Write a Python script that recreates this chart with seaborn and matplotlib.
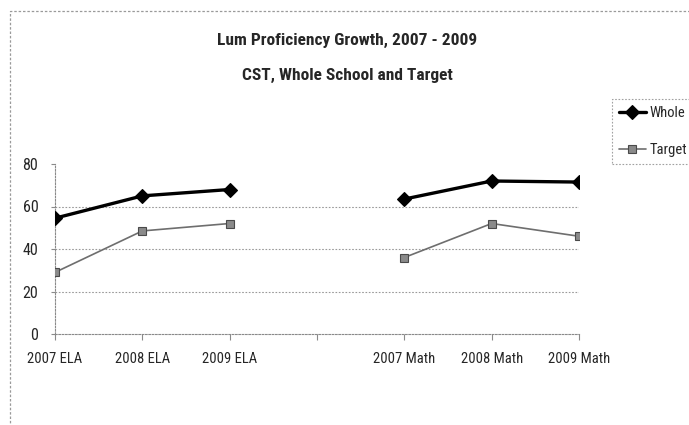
import matplotlib
matplotlib.use("Agg")
import matplotlib.pyplot as plt
from matplotlib.patches import Rectangle
from matplotlib.lines import Line2D
import seaborn as sns
import pandas as pd

categories = ["2007 ELA", "2008 ELA", "2009 ELA", "", "2007 Math", "2008 Math", "2009 Math"]
whole = [54.5, 65, 68, None, 63.5, 72, 71.5]
target = [29, 48.5, 52, None, 36, 52, 46]
subjects = ["ELA", "ELA", "ELA", None, "Math", "Math", "Math"]
series_names = ["Whole", "Target"]
yticks = [0, 20, 40, 60, 80]
title_lines = ["Lum Proficiency Growth, 2007 - 2009", "CST, Whole School and Target"]

sns.set_theme(style="white")
plt.rcParams['font.family'] = ['Roboto Condensed', 'DejaVu Sans']

rows = []
for name, vals in zip(series_names, [whole, target]):
    for i, (v, s) in enumerate(zip(vals, subjects)):
        if v is not None:
            rows.append({"pos": i, "value": v, "series": name, "subject": s})
df = pd.DataFrame(rows)

fig = plt.figure(figsize=(6.89, 4.25), dpi=100)
ax = fig.add_axes([55/689, 1-334/425, (579-55)/689, (334-164)/425])

styles = {
    "Whole": dict(color="black", lw=2.4, marker="D", ms=7.5, mfc="black", mec="black"),
    "Target": dict(color="#6e6e6e", lw=1.2, marker="s", ms=6.0, mfc="#8a8a8a", mec="#4a4a4a"),
}
for name in series_names:
    st = styles[name]
    sub = df[df.series == name]
    sns.lineplot(data=sub, x="pos", y="value", units="subject", estimator=None,
                 ax=ax, color=st["color"], linewidth=st["lw"], marker=st["marker"],
                 markersize=st["ms"], markerfacecolor=st["mfc"], markeredgecolor=st["mec"],
                 markeredgewidth=0.8, legend=False, zorder=3)

ax.set_xlim(0, len(categories) - 1)
ax.set_ylim(0, 80)
ax.set_xticks(range(len(categories)))
ax.set_xticklabels(categories, fontsize=10.5)
ax.set_yticks(yticks)
ax.set_yticklabels([str(t) for t in yticks], fontsize=11.5)
ax.set_xlabel("")
ax.set_ylabel("")

for t in [20, 40, 60]:
    ax.axhline(t, color="#9a9a9a", lw=0.8, ls=(0, (1.5, 1.5)), zorder=1)

for side in ["top", "right"]:
    ax.spines[side].set_visible(False)
for side in ["left", "bottom"]:
    ax.spines[side].set_visible(True)
    ax.spines[side].set_color("#8a8a8a")
    ax.spines[side].set_linewidth(0.8)
    ax.spines[side].set_linestyle((0, (1.5, 1.5)))

ax.tick_params(axis="x", direction="out", length=4, width=0.8, color="#8a8a8a", pad=9, bottom=True)
ax.tick_params(axis="y", direction="out", length=3, width=0.8, color="#8a8a8a", pad=9, left=True)
ax.grid(False)

fig.text(347/689, 1-40/425, title_lines[0], ha="center", va="center",
         fontsize=12.5, fontweight="bold")
fig.text(347/689, 1-75/425, title_lines[1], ha="center", va="center",
         fontsize=12.5, fontweight="bold")

handles = [Line2D([], [], color=styles[n]["color"], lw=styles[n]["lw"], marker=styles[n]["marker"],
                  ms=styles[n]["ms"], mfc=styles[n]["mfc"], mec=styles[n]["mec"], mew=0.8)
           for n in series_names]
leg = fig.legend(handles, series_names, loc="upper left", bbox_to_anchor=(612/689, 1-99/425),
                 frameon=True, fontsize=10.5, handlelength=1.8, handletextpad=0.3,
                 labelspacing=1.55, borderpad=0.5, fancybox=False, borderaxespad=0)
frame = leg.get_frame()
frame.set_edgecolor("#8a8a8a")
frame.set_linewidth(0.8)
frame.set_linestyle((0, (1.5, 1.5)))

fig.patches.append(Rectangle((10/689, -0.05), 1.2, 1-11/425 + 0.05, transform=fig.transFigure,
                             fill=False, edgecolor="#9a9a9a", lw=0.9, ls=(0, (2, 1.5))))

fig.savefig("out.png", dpi=100)
